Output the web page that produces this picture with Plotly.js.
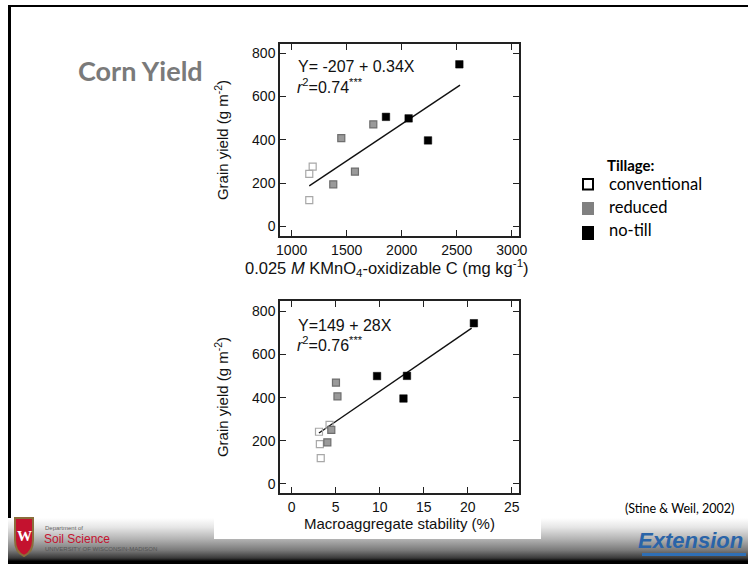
<!DOCTYPE html>
<html>
<head>
<meta charset="utf-8">
<script src="https://cdn.plot.ly/plotly-3.0.1.min.js"></script>
<style>
  html, body { margin:0; padding:0; background:#fff; }
  #slide { position:relative; width:748px; height:564px; overflow:hidden; background:#fff; }
  #frame { position:absolute; left:8px; top:5px; width:760px; height:560px; border-left:3px solid #000; border-top:2px solid #000; }
  #footer { position:absolute; left:8px; top:518px; width:740px; height:46px;
    background: linear-gradient(to bottom, #ffffff 0%, #e6e6e6 20%, #b5b5b5 45%, #7a7a7a 70%, #3a3a3a 87%, #000 94%, #000 100%); }
  #chart { position:absolute; left:0; top:0; width:748px; height:564px; }
</style>
</head>
<body>
<div id="slide">
  <div id="frame"></div>
  <div id="footer"></div>
  <div id="chart"></div>
</div>
<script>
// ---- Data ----
// Top panel: KMnO4-oxidizable C (mg/kg) vs grain yield (g/m2)
const topConvX = [1160, 1160, 1191];
const topConvY = [121, 242, 276];
const topRedX  = [1378, 1451, 1575, 1742];
const topRedY  = [194, 408, 253, 471];
const topNoX   = [1857, 2063, 2239, 2524];
const topNoY   = [506, 499, 397, 749];
const topFitX  = [1160, 2530];
const topFitY  = [187, 653];

// Bottom panel: macroaggregate stability (%) vs grain yield (g/m2)
const botConvX = [3.3, 3.2, 3.1, 4.3];
const botConvY = [120, 185, 242, 274];
const botRedX  = [4.05, 4.5, 5.03, 5.2];
const botRedY  = [193, 251, 470, 406];
const botNoX   = [9.7, 13.1, 12.7, 20.7];
const botNoY   = [500, 501, 396, 745];
const botFitX  = [3.1, 20.45];
const botFitY  = [236, 722];

const yTicks = [0, 200, 400, 600, 800];
const topXTicks = [1000, 1500, 2000, 2500, 3000];
const botXTicks = [0, 5, 10, 15, 20, 25];

const legendLabels = ['conventional', 'reduced', 'no-till'];
// ---------------------------------------

const W = 748, H = 564;
const px = v => v / W;
const py = v => 1 - v / H;

const convMarker = {symbol:'square-open', size:7, color:'#a8a8a8', line:{width:1.2, color:'#a8a8a8'}};
const redMarker  = {symbol:'square', size:7, color:'#9a9a9a', line:{width:1.2, color:'#6e6e6e'}};
const noMarker   = {symbol:'square', size:7.5, color:'#000', line:{width:0.5, color:'#000'}};

const traces = [
  {x: topFitX, y: topFitY, mode:'lines', line:{color:'#111', width:1.4}, xaxis:'x', yaxis:'y', hoverinfo:'skip'},
  {x: topConvX, y: topConvY, mode:'markers', marker: convMarker, xaxis:'x', yaxis:'y'},
  {x: topRedX, y: topRedY, mode:'markers', marker: redMarker, xaxis:'x', yaxis:'y'},
  {x: topNoX, y: topNoY, mode:'markers', marker: noMarker, xaxis:'x', yaxis:'y'},
  {x: botFitX, y: botFitY, mode:'lines', line:{color:'#111', width:1.4}, xaxis:'x2', yaxis:'y2', hoverinfo:'skip'},
  {x: botConvX, y: botConvY, mode:'markers', marker: convMarker, xaxis:'x2', yaxis:'y2'},
  {x: botRedX, y: botRedY, mode:'markers', marker: redMarker, xaxis:'x2', yaxis:'y2'},
  {x: botNoX, y: botNoY, mode:'markers', marker: noMarker, xaxis:'x2', yaxis:'y2'}
];

const SANS = 'Liberation Sans, Arial, sans-serif';
const CAL = 'Lato, Open Sans, sans-serif';
const axFont = {family:SANS, size:14, color:'#111'};
const titleFont = {family:SANS, size:15, color:'#111'};
const common = {
  showline:true, linecolor:'#222', linewidth:1.5, mirror:'allticks',
  ticks:'inside', ticklen:6, tickwidth:1.2, tickcolor:'#222',
  showgrid:false, zeroline:false, tickfont: axFont
};

const layout = {
  width: W, height: H,
  margin:{l:0, r:0, t:0, b:0},
  paper_bgcolor:'rgba(0,0,0,0)', plot_bgcolor:'#fff',
  showlegend:false,
  font:{family:SANS},
  xaxis: Object.assign({}, common, {
    domain:[px(280), px(519)], range:[894, 3066], tickvals: topXTicks, anchor:'y'
  }),
  yaxis: Object.assign({}, common, {
    domain:[py(236), py(44)], range:[-45, 843], tickvals: yTicks, anchor:'x',
    title:{text:'Grain yield (g m<sup>-2</sup>)', font:titleFont, standoff:20}
  }),
  xaxis2: Object.assign({}, common, {
    domain:[px(280), px(519)], range:[-1.33, 25.83], tickvals: botXTicks, anchor:'y2',
    title:{text:'Macroaggregate stability (%)', font:titleFont, standoff:1}
  }),
  yaxis2: Object.assign({}, common, {
    domain:[py(493), py(301)], range:[-42, 848], tickvals: yTicks, anchor:'x2',
    title:{text:'Grain yield (g m<sup>-2</sup>)', font:titleFont, standoff:20}
  }),
  shapes: [
    // white picture area behind the two panels
    {type:'rect', xref:'paper', yref:'paper', x0:px(214), x1:px(541), y0:py(539), y1:py(38), fillcolor:'#fff', line:{width:0}, layer:'below'},
    // legend swatches
    {type:'rect', xref:'paper', yref:'paper', x0:px(583), x1:px(593), y0:py(189.5), y1:py(179), fillcolor:'#fff', line:{color:'#000', width:2}},
    {type:'rect', xref:'paper', yref:'paper', x0:px(582), x1:px(594), y0:py(215), y1:py(202), fillcolor:'#808080', line:{width:0}},
    {type:'rect', xref:'paper', yref:'paper', x0:px(582), x1:px(594), y0:py(240), y1:py(226), fillcolor:'#000', line:{width:0}},
    // left logo crest
    {type:'path', xref:'paper', yref:'paper',
     path:'M '+px(15)+','+py(518)+' L '+px(33)+','+py(518)+' L '+px(33)+','+py(540)+' Q '+px(33)+','+py(552)+' '+px(24)+','+py(556)+' Q '+px(15)+','+py(552)+' '+px(15)+','+py(540)+' Z',
     fillcolor:'#c4122f', line:{color:'#8a6d3b', width:2}},
    // Extension underline
    {type:'rect', xref:'paper', yref:'paper', x0:px(642), x1:px(746), y0:py(556), y1:py(553), fillcolor:'#2f6fb5', line:{width:0}}
  ],
  annotations: [
    {text:'0.025 <i>M</i> KMnO<sub>4</sub>-oxidizable C (mg kg<sup>-1</sup>)', xref:'paper', yref:'paper', x:px(387), y:py(268), xanchor:'center', yanchor:'middle', showarrow:false, font:{family:SANS, size:16.5, color:'#111'}},
    {text:'Y= -207 + 0.34X', xref:'paper', yref:'paper', x:px(296), y:py(66), xanchor:'left', yanchor:'middle', showarrow:false, font:{family:SANS, size:16, color:'#111'}},
    {text:'<i>r</i><sup>2</sup>=0.74<sup>***</sup>', xref:'paper', yref:'paper', x:px(295), y:py(86), xanchor:'left', yanchor:'middle', showarrow:false, font:{family:SANS, size:16, color:'#111'}},
    {text:'Y=149 + 28X', xref:'paper', yref:'paper', x:px(296), y:py(325), xanchor:'left', yanchor:'middle', showarrow:false, font:{family:SANS, size:16, color:'#111'}},
    {text:'<i>r</i><sup>2</sup>=0.76<sup>***</sup>', xref:'paper', yref:'paper', x:px(295), y:py(344), xanchor:'left', yanchor:'middle', showarrow:false, font:{family:SANS, size:16, color:'#111'}},
    {text:'Corn Yield', xref:'paper', yref:'paper', x:px(76), y:py(70), xanchor:'left', yanchor:'middle', showarrow:false, font:{family:CAL, size:27, color:'#7a7a7a', weight:'bold'}},
    {text:'Tillage:', xref:'paper', yref:'paper', x:px(631), y:py(165), xanchor:'center', yanchor:'middle', showarrow:false, font:{family:CAL, size:15, color:'#000', weight:'bold'}},
    {text:legendLabels[0], xref:'paper', yref:'paper', x:px(607), y:py(184), xanchor:'left', yanchor:'middle', showarrow:false, font:{family:CAL, size:16.5, color:'#000'}},
    {text:legendLabels[1], xref:'paper', yref:'paper', x:px(607), y:py(207), xanchor:'left', yanchor:'middle', showarrow:false, font:{family:CAL, size:16.5, color:'#000'}},
    {text:legendLabels[2], xref:'paper', yref:'paper', x:px(607), y:py(230), xanchor:'left', yanchor:'middle', showarrow:false, font:{family:CAL, size:16.5, color:'#000'}},
    {text:'(Stine & Weil, 2002)', xref:'paper', yref:'paper', x:px(736), y:py(508), xanchor:'right', yanchor:'middle', showarrow:false, font:{family:CAL, size:12.5, color:'#000'}},
    {text:'W', xref:'paper', yref:'paper', x:px(24), y:py(536), xanchor:'center', yanchor:'middle', showarrow:false, font:{family:'Liberation Serif, serif', size:15, color:'#fff', weight:'bold'}},
    {text:'Soil Science', xref:'paper', yref:'paper', x:px(42), y:py(539), xanchor:'left', yanchor:'middle', showarrow:false, font:{family:SANS, size:12, color:'#c4122f'}},
    {text:'Department of', xref:'paper', yref:'paper', x:px(43), y:py(528), xanchor:'left', yanchor:'middle', showarrow:false, font:{family:SANS, size:6, color:'#666'}},
    {text:'UNIVERSITY OF WISCONSIN-MADISON', xref:'paper', yref:'paper', x:px(43), y:py(549), xanchor:'left', yanchor:'middle', showarrow:false, font:{family:SANS, size:6, color:'#555'}},
    {text:'Extension', xref:'paper', yref:'paper', x:px(745), y:py(540), xanchor:'right', yanchor:'middle', showarrow:false, font:{family:SANS, size:22, color:'#2a64a8', weight:'bold', style:'italic'}}
  ]
};

Plotly.newPlot('chart', traces, layout, {displayModeBar:false});
</script>
</body>
</html>
